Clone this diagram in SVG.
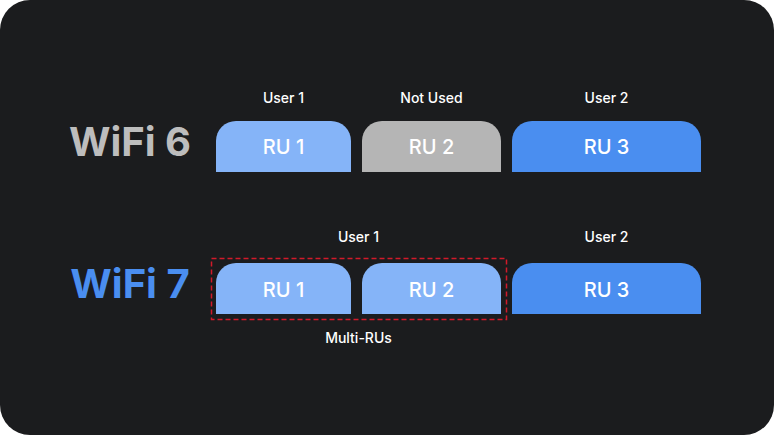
<svg xmlns="http://www.w3.org/2000/svg" width="774" height="435" viewBox="0 0 774 435">
<style>
.lbl{font-family:Inter,"Liberation Sans",sans-serif;font-size:14px;fill:#fff;text-anchor:middle;font-weight:500}
.ru{font-family:Inter,"Liberation Sans",sans-serif;font-size:20px;fill:#fff;text-anchor:middle;font-weight:500}
.big{font-family:Inter,"Liberation Sans",sans-serif;font-size:40px;font-weight:700;text-anchor:middle}
</style>
<rect x="0" y="0" width="774" height="435" fill="#fff"/>
<rect x="0" y="0" width="774" height="435" rx="30" fill="#1b1c1e"/>
<text class="big" x="130" y="156" fill="#bdbdbd">WiFi 6</text>
<text class="big" x="130" y="298" fill="#4a8ef0">WiFi 7</text>
<g id="w6-ru1"><path d="M216 172V141a20 20 0 0 1 20-20h95a20 20 0 0 1 20 20v31z" fill="#85b4f8"/><text class="ru" x="283.5" y="154">RU 1</text><text class="lbl" x="283.5" y="103">User 1</text></g>
<g id="w6-ru2"><path d="M362 172V141a20 20 0 0 1 20-20h99a20 20 0 0 1 20 20v31z" fill="#b5b5b5"/><text class="ru" x="431.5" y="154">RU 2</text><text class="lbl" x="431.5" y="103">Not Used</text></g>
<g id="w6-ru3"><path d="M512 172V141a20 20 0 0 1 20-20h149a20 20 0 0 1 20 20v31z" fill="#4a8ef0"/><text class="ru" x="606.5" y="154">RU 3</text><text class="lbl" x="606.5" y="103">User 2</text></g>
<g id="w7-multi"><rect x="211.5" y="258.5" width="295" height="61" fill="none" stroke="#d11a2a" stroke-width="1.5" stroke-dasharray="5 3"/><text class="lbl" x="358.5" y="242">User 1</text><text class="lbl" x="358.5" y="343">Multi-RUs</text></g>
<g id="w7-ru1"><path d="M216 314V283a20 20 0 0 1 20-20h95a20 20 0 0 1 20 20v31z" fill="#85b4f8"/><text class="ru" x="283.5" y="297">RU 1</text></g>
<g id="w7-ru2"><path d="M362 314V283a20 20 0 0 1 20-20h99a20 20 0 0 1 20 20v31z" fill="#85b4f8"/><text class="ru" x="431.5" y="297">RU 2</text></g>
<g id="w7-ru3"><path d="M512 314V283a20 20 0 0 1 20-20h149a20 20 0 0 1 20 20v31z" fill="#4a8ef0"/><text class="ru" x="606.5" y="297">RU 3</text><text class="lbl" x="606.5" y="242">User 2</text></g>
<g id="connectors"/>
</svg>
